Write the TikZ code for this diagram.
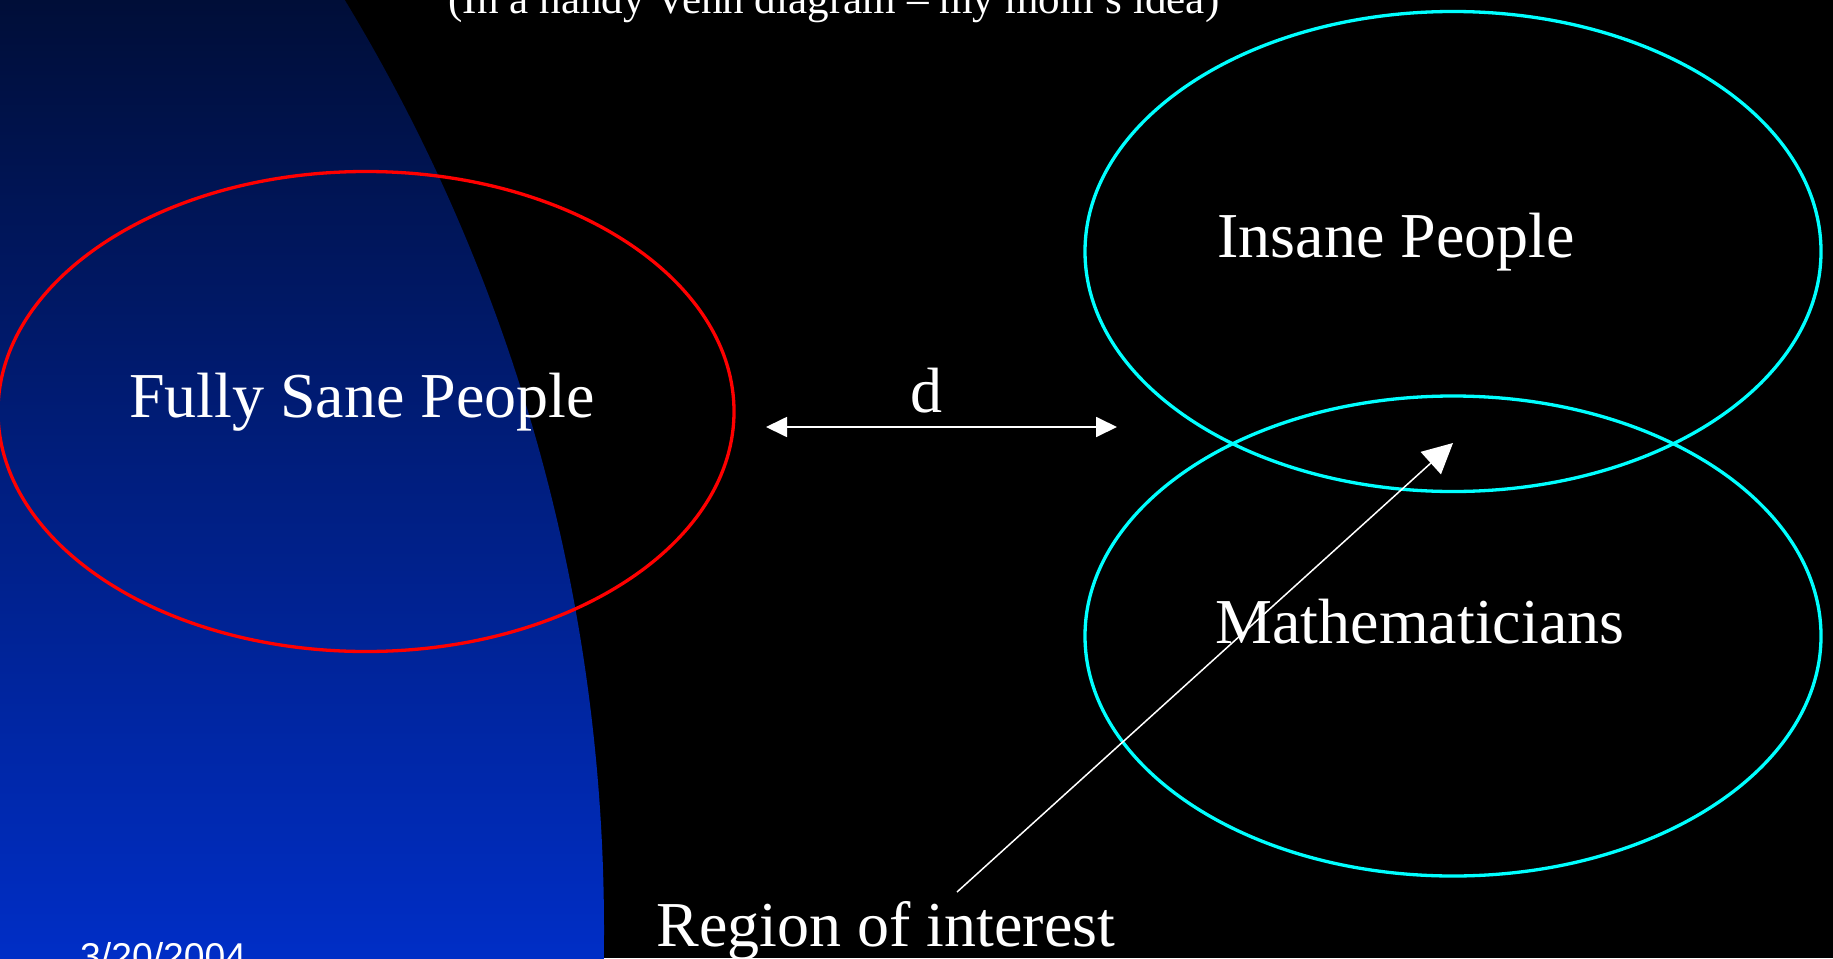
\documentclass[tikz,border=0pt]{standalone}
\usepackage{fontspec}
\setmainfont{Liberation Serif}
\newfontfamily\datefont{Liberation Sans}
\usetikzlibrary{shapes.geometric,arrows.meta}
\definecolor{navytop}{HTML}{000E38}
\definecolor{bluebot}{HTML}{002EC6}
\definecolor{vcyan}{HTML}{00FFFF}
\tikzset{
  setring/.style={draw, ellipse, inner sep=0pt, minimum width=736pt, minimum height=480pt, line width=3.3pt},
  bigtext/.style={text=white, anchor=base, inner sep=0pt, font=\fontsize{64}{70}\selectfont},
  titletext/.style={text=white, anchor=base, inner sep=0pt, font=\fontsize{43.1}{48}\selectfont},
}
\begin{document}
\begin{tikzpicture}[x=1pt,y=-1pt]
\useasboundingbox (0,0) rectangle (1833,958);
\fill[black] (0,0) rectangle (1833,958);
\begin{scope}
  \clip (0,0) rectangle (1833,958);
  \clip (-1192,930) circle[radius=1796pt];
  \shade[top color=navytop, bottom color=bluebot] (0,0) rectangle (700,958);
\end{scope}
\begin{scope}
\clip (0,0) rectangle (1833,958);
\node[setring, draw=red] (sane) at (366,411.5) {};
\node[setring, draw=vcyan] (insane) at (1453,251.5) {};
\node[setring, draw=vcyan] (math) at (1453,636) {};
\node[titletext] (title) at (834,14) {(In a handy Venn diagram – my mom’s idea)};
\node[bigtext] (sanet) at (362,417) {Fully Sane People};
\node[bigtext] (insanet) at (1396,257) {Insane People};
\node[bigtext] (matht) at (1420,643) {Mathematicians};
\node[bigtext] (dlab) at (926,412) {d};
\node[bigtext] (roi) at (886,946) {Region of interest};
\node[text=white, anchor=base west, inner sep=0pt, font=\datefont\fontsize{37.3}{40}\selectfont] (date) at (80,969) {3/20/2004};
\coordinate (dl) at (766,427);
\coordinate (dr) at (1117,427);
\draw[white, line width=1.8pt, {Triangle[length=21pt,width=20pt]}-{Triangle[length=21pt,width=20pt]}] (dl) -- (dr);
\coordinate (ptrstart) at (957,892);
\coordinate (ptrtip) at (1453,443);
\draw[white, line width=1.5pt, -{Triangle[length=30pt,width=30pt]}] (ptrstart) -- (ptrtip);
\end{scope}
\end{tikzpicture}
\end{document}
